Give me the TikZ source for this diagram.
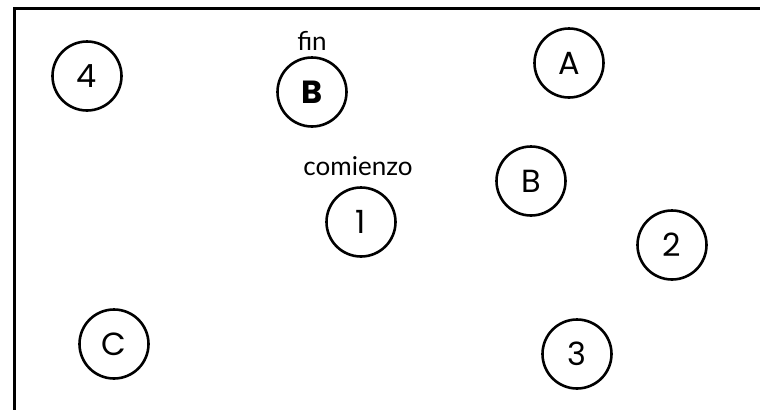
\documentclass[tikz,border=0pt]{standalone}
\usepackage{fontspec}
\setmainfont{Poppins}
\newfontfamily\wordfont{Lato}
\begin{document}
\begin{tikzpicture}[x=1pt,y=-1pt,
  state/.style={circle,draw,line width=2.6pt,minimum size=69pt,inner sep=0pt,
    font=\fontsize{32}{32}\selectfont},
  word/.style={inner sep=0pt,font=\wordfont\fontsize{26}{26}\selectfont}]
\useasboundingbox (0,0) rectangle (760,410);
\coordinate (tl) at (14.5,8.5);
\coordinate (tr) at (760,8.5);
\coordinate (bl) at (14.5,410);
\draw[line width=3pt] (tr) -- (tl) -- (bl);
\node[state] (n4) at (87,76) {4};
\node[state,font=\fontsize{32}{32}\selectfont\bfseries] (bfin) at (312,92) {B};
\node[state] (a) at (569,63) {A};
\node[state] (b) at (531,181) {B};
\node[state] (n1) at (361,222) {1};
\node[state] (n2) at (672,245) {2};
\node[state] (c) at (114,344) {C};
\node[state] (n3) at (577,354) {3};
\node[word,anchor=base] (fin) at (312,50) {fin};
\node[word,anchor=base] (com) at (358,175) {comienzo};
\end{tikzpicture}
\end{document}
